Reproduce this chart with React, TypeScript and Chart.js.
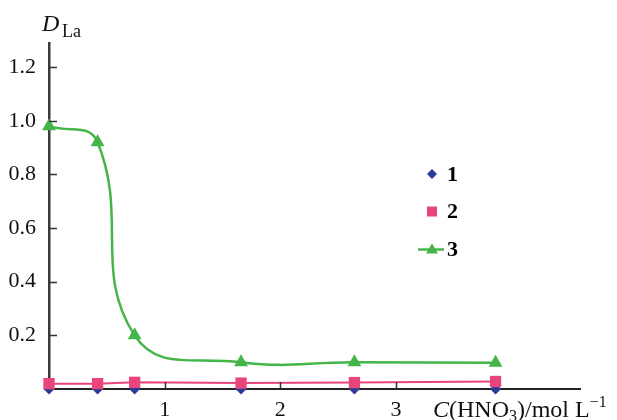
import React, { useEffect, useRef } from 'react';
import { Chart, registerables } from 'chart.js';

Chart.register(...registerables);

// Data
const xValues = [0, 0.42, 0.74, 1.66, 2.64, 3.86];
const series1 = [0, 0, 0, 0, 0, 0];
const series2 = [0.02, 0.02, 0.025, 0.022, 0.024, 0.028];
const series3 = [0.98, 0.92, 0.2, 0.1, 0.1, 0.098];
const seriesNames = ['1', '2', '3'];
const yTickValues = [0.2, 0.4, 0.6, 0.8, 1.0, 1.2];
const xTickValues = [1, 2, 3];

const BLUE = '#2c3b97';
const PINK = '#e8467b';
const GREEN = '#44b549';
const SERIF = '"Liberation Serif", "DejaVu Serif", serif';

const toPoints = (ys: number[]) => xValues.map((x, i) => ({ x, y: ys[i] }));

const decorPlugin = {
  id: 'decor',
  afterDraw(chart: any) {
    const ctx = chart.ctx as CanvasRenderingContext2D;
    const xs = chart.scales.x;
    const ys = chart.scales.y;
    const area = chart.chartArea;
    ctx.save();
    // inward tick marks
    ctx.strokeStyle = '#333';
    ctx.lineWidth = 1.5;
    ctx.beginPath();
    yTickValues.forEach((v) => {
      const py = Math.round(ys.getPixelForValue(v)) + 0.5;
      ctx.moveTo(area.left, py);
      ctx.lineTo(area.left + 8, py);
    });
    xTickValues.forEach((v) => {
      const px = Math.round(xs.getPixelForValue(v)) + 0.5;
      ctx.moveTo(px, area.bottom);
      ctx.lineTo(px, area.bottom - 7);
    });
    ctx.stroke();

    // axis titles
    ctx.fillStyle = '#111';
    ctx.textBaseline = 'alphabetic';
    ctx.textAlign = 'left';
    ctx.font = `italic 24px ${SERIF}`;
    ctx.fillText('D', 42, 31);
    ctx.font = `18px ${SERIF}`;
    ctx.fillText('La', 62, 37);

    let x = 433;
    const base = 417;
    const seg = (t: string, font: string, dy = 0) => {
      ctx.font = font;
      ctx.fillText(t, x, base + dy);
      x += ctx.measureText(t).width;
    };
    seg('C', `italic 24px ${SERIF}`);
    seg('(HNO', `24px ${SERIF}`);
    seg('3', `16px ${SERIF}`, 4);
    seg(')/mol L', `24px ${SERIF}`);
    seg('\u22121', `16px ${SERIF}`, -10);

    // legend
    const lx = 432;
    const rows = [174, 211.5, 249.5];
    // 1: diamond
    ctx.fillStyle = BLUE;
    ctx.beginPath();
    ctx.moveTo(lx, rows[0] - 5);
    ctx.lineTo(lx + 5, rows[0]);
    ctx.lineTo(lx, rows[0] + 5);
    ctx.lineTo(lx - 5, rows[0]);
    ctx.closePath();
    ctx.fill();
    // 2: square
    ctx.fillStyle = PINK;
    ctx.fillRect(lx - 5, rows[1] - 5, 10, 10);
    // 3: line + triangle
    ctx.strokeStyle = GREEN;
    ctx.lineWidth = 2.5;
    ctx.beginPath();
    ctx.moveTo(418, rows[2]);
    ctx.lineTo(444, rows[2]);
    ctx.stroke();
    ctx.fillStyle = GREEN;
    ctx.beginPath();
    ctx.moveTo(lx, rows[2] - 6);
    ctx.lineTo(lx + 6, rows[2] + 4);
    ctx.lineTo(lx - 6, rows[2] + 4);
    ctx.closePath();
    ctx.fill();

    ctx.fillStyle = '#000';
    ctx.font = `bold 22px ${SERIF}`;
    ctx.textBaseline = 'middle';
    rows.forEach((ry, i) => ctx.fillText(seriesNames[i], 447, ry + 1));
    ctx.restore();
  },
};

export default function App() {
  const ref = useRef<HTMLCanvasElement | null>(null);
  useEffect(() => {
    if (!ref.current) return;
    const chart = new Chart(ref.current, {
      type: 'line',
      data: {
        datasets: [
          {
            label: seriesNames[2],
            data: toPoints(series3),
            borderColor: GREEN,
            backgroundColor: GREEN,
            borderWidth: 2.5,
            tension: 0.45,
            pointStyle: 'triangle',
            pointRadius: 8,
            pointBorderWidth: 0,
            clip: false,
          },
          {
            label: seriesNames[1],
            data: toPoints(series2),
            borderColor: PINK,
            backgroundColor: PINK,
            borderWidth: 2,
            tension: 0,
            pointStyle: 'rect',
            pointRadius: 8,
            pointBorderWidth: 0,
            clip: false,
          },
          {
            label: seriesNames[0],
            data: toPoints(series1),
            borderColor: BLUE,
            backgroundColor: BLUE,
            showLine: false,
            pointStyle: 'rectRot',
            pointRadius: 5.5,
            pointBorderWidth: 0,
            clip: false,
          },
        ],
      },
      options: {
        responsive: false,
        animation: false,
        devicePixelRatio: 1,
        layout: { padding: { top: 43, right: 37, left: 0, bottom: 0 } },
        plugins: { legend: { display: false }, tooltip: { enabled: false } },
        scales: {
          x: {
            type: 'linear',
            min: 0,
            max: 4.59,
            afterBuildTicks: (s: any) => {
              s.ticks = xTickValues.map((v) => ({ value: v }));
            },
            afterFit: (s: any) => {
              s.height = 31;
            },
            grid: { display: false, drawTicks: false },
            border: { display: true, color: '#222', width: 2 },
            ticks: {
              color: '#111',
              padding: 8,
              maxRotation: 0,
              font: { family: SERIF, size: 22 },
              callback: (v: any) => String(v),
            },
          },
          y: {
            type: 'linear',
            min: 0,
            max: 1.29,
            afterBuildTicks: (s: any) => {
              s.ticks = yTickValues.map((v) => ({ value: v }));
            },
            afterFit: (s: any) => {
              s.width = 49;
            },
            grid: { display: false, drawTicks: false },
            border: { display: true, color: '#3a3a3a', width: 2.5 },
            ticks: {
              color: '#111',
              padding: 13,
              font: { family: SERIF, size: 22 },
              callback: (v: any) => Number(v).toFixed(1),
            },
          },
        },
      },
      plugins: [decorPlugin],
    });
    return () => chart.destroy();
  }, []);
  return (
    <div style={{ position: 'absolute', left: 0, top: 0, width: 617, height: 420, background: '#fff' }}>
      <canvas ref={ref} width={617} height={420} style={{ display: 'block' }} />
    </div>
  );
}
